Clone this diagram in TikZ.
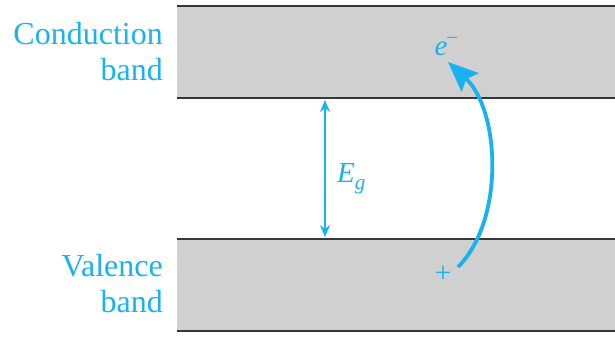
\documentclass[tikz,border=0pt]{standalone}
\usepackage{fontspec}
\setmainfont{Liberation Serif}
\usetikzlibrary{arrows.meta}
\definecolor{cy}{RGB}{25,178,240}
\definecolor{bandfill}{RGB}{208,208,208}
\definecolor{edge}{RGB}{55,55,55}
\tikzset{
  bandbox/.style={fill=bandfill,draw=none},
  edgeline/.style={draw=edge,line width=2.6pt},
  lab/.style={text=cy,font=\fontsize{32}{35}\selectfont,inner sep=0pt,anchor=base east},
  sym/.style={text=cy,font=\fontsize{29}{33}\selectfont,inner sep=0pt},
  gaparrow/.style={draw=cy,line width=2pt,{Stealth[length=12pt,width=10pt]}-{Stealth[length=12pt,width=10pt]}},
  jumparrow/.style={draw=cy,line width=3.8pt,-{Stealth[length=30pt,width=25pt,inset=5pt]}}
}
\begin{document}
\begin{tikzpicture}[x=1pt,y=-1pt]
\useasboundingbox (0,0) rectangle (615,337);
% bands
\fill[bandbox] (177,6) rectangle (615,98);
\fill[bandbox] (177,239) rectangle (615,331);
\draw[edgeline] (177,6) -- (615,6);
\draw[edgeline] (177,98) -- (615,98);
\draw[edgeline] (177,239) -- (615,239);
\draw[edgeline] (177,331) -- (615,331);
% labels
\node[lab] (cb1) at (163,45) {Conduction};
\node[lab] (cb2) at (163,80) {band};
\node[lab] (vb1) at (163,276) {Valence};
\node[lab] (vb2) at (163,312) {band};
% gap arrow
\coordinate (gtop) at (325,100);
\coordinate (gbot) at (325,237);
\draw[gaparrow] (gtop) -- (gbot);
\node[sym,anchor=base west] (eg) at (337,182) {\textit{E}\raisebox{-7pt}{\fontsize{21}{21}\selectfont\textit{g}}};
% electron jump
\node[sym,anchor=base] (el) at (446,56) {\textit{e}\raisebox{13pt}{\fontsize{20}{20}\selectfont\textendash}};
\node[sym] (hole) at (443,274) {+};
\coordinate (jstart) at (458,267);
\coordinate (jend) at (448,62);
\draw[jumparrow] (jstart) .. controls (505,220) and (500,110) .. (jend);
\end{tikzpicture}
\end{document}
